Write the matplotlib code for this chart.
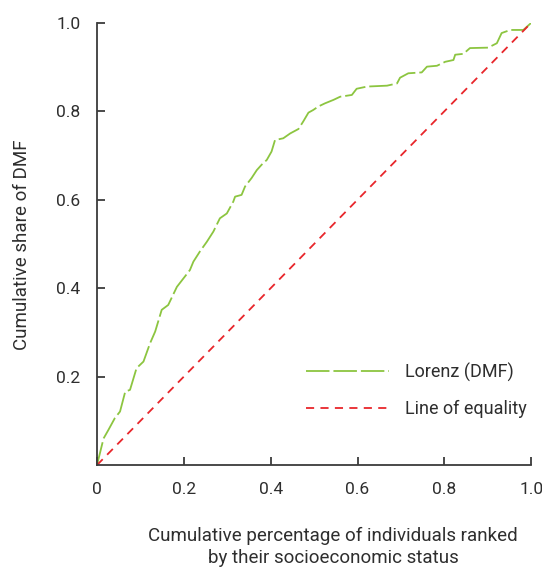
import matplotlib
matplotlib.use("Agg")
import matplotlib.pyplot as plt

# Lorenz curve (cumulative population share, cumulative DMF share)
pop_share = [0.0, 0.015, 0.026, 0.041, 0.053, 0.065, 0.076, 0.091, 0.107, 0.122,
             0.134, 0.149, 0.164, 0.184, 0.199, 0.214, 0.222, 0.237, 0.253, 0.268,
             0.283, 0.299, 0.314, 0.318, 0.333, 0.341, 0.356, 0.368, 0.379, 0.391,
             0.402, 0.410, 0.429, 0.445, 0.464, 0.475, 0.487, 0.498, 0.510, 0.525,
             0.545, 0.560, 0.587, 0.598, 0.622, 0.668, 0.691, 0.698, 0.717, 0.748,
             0.760, 0.783, 0.802, 0.821, 0.825, 0.844, 0.859, 0.901, 0.921, 0.932,
             0.952, 0.982, 1.0]
dmf_share = [0.0, 0.060, 0.079, 0.106, 0.121, 0.166, 0.170, 0.219, 0.234, 0.275,
             0.302, 0.351, 0.362, 0.403, 0.422, 0.441, 0.460, 0.483, 0.505, 0.528,
             0.558, 0.569, 0.596, 0.607, 0.611, 0.630, 0.649, 0.667, 0.679, 0.690,
             0.709, 0.735, 0.739, 0.750, 0.760, 0.777, 0.797, 0.803, 0.811, 0.818,
             0.826, 0.833, 0.837, 0.851, 0.856, 0.858, 0.863, 0.876, 0.886, 0.888,
             0.901, 0.903, 0.912, 0.916, 0.928, 0.930, 0.943, 0.944, 0.954, 0.977,
             0.984, 0.984, 1.0]
equality = [0.0, 1.0]

ticks = [0.2, 0.4, 0.6, 0.8, 1.0]
tick_labels = ["0.2", "0.4", "0.6", "0.8", "1.0"]

plt.rcParams["font.family"] = ["Roboto", "DejaVu Sans"]
plt.rcParams["font.size"] = 13

fig = plt.figure(figsize=(5.42, 5.72), dpi=100)
ax = fig.add_axes([0.179, 0.187, 0.801, 0.773])

green = "#8cc540"
red = "#e8262b"
ax.plot(pop_share, dmf_share, color=green, lw=1.3, dashes=(13, 2.2),
        label="Lorenz (DMF)")
ax.plot(equality, equality, color=red, lw=1.3, dashes=(4.5, 3.5),
        label="Line of equality")

ax.set_xlim(0, 1)
ax.set_ylim(0, 1)
for s in ["top", "right"]:
    ax.spines[s].set_visible(False)
for s in ["left", "bottom"]:
    ax.spines[s].set_color("#3c3c3c")
    ax.spines[s].set_linewidth(1.3)

ax.set_xticks([0] + ticks)
ax.set_xticklabels(["0"] + tick_labels)
ax.set_yticks(ticks)
ax.set_yticklabels(tick_labels)
ax.tick_params(direction="in", length=6, width=1.3, color="#3c3c3c",
               labelcolor="#2e2e2e", labelsize=12.5)
ax.tick_params(axis="x", pad=12)
ax.tick_params(axis="y", pad=12)

fig.text(22 / 542, 1 - 245 / 572, "Cumulative share of DMF", rotation=90,
         ha="center", va="center", fontsize=13.5, color="#2e2e2e")
fig.text(333 / 542, 1 - 547 / 572,
         "Cumulative percentage of individuals ranked\nby their socioeconomic status",
         ha="center", va="center", fontsize=13.5, color="#2e2e2e", linespacing=1.3)

leg = ax.legend(loc="lower right", bbox_to_anchor=(1.028, 0.07), frameon=False,
                handlelength=4.6, handletextpad=0.9, labelspacing=1.0,
                fontsize=13)
for t in leg.get_texts():
    t.set_color("#2e2e2e")

fig.savefig("out.png", dpi=100)
